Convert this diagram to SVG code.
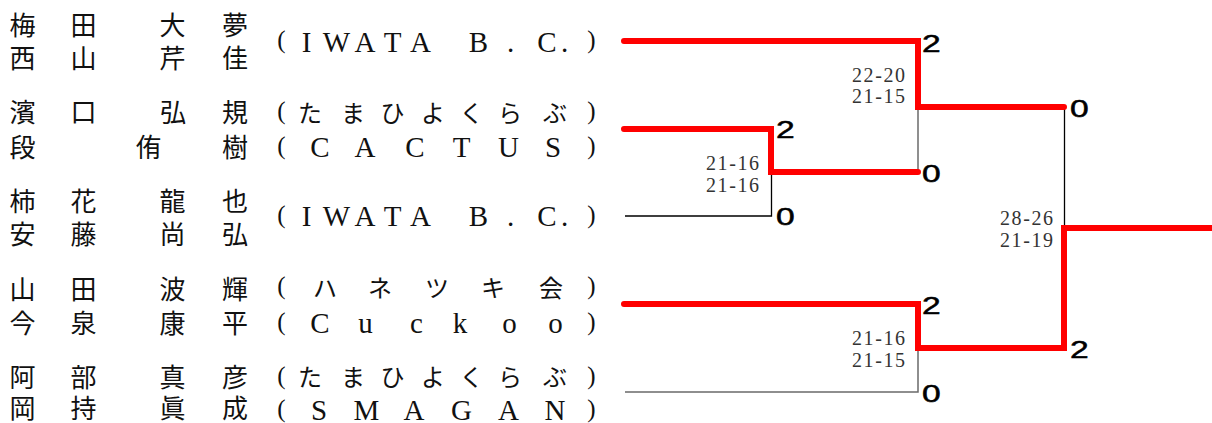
<svg xmlns="http://www.w3.org/2000/svg" width="1212" height="423" viewBox="0 0 1212 423">
<style>
.nm{font-family:"Noto Sans CJK JP","Noto Sans CJK SC",sans-serif;font-size:26px;fill:#111;text-anchor:middle}
.kn{font-family:"Noto Sans CJK JP","Noto Sans CJK SC",sans-serif;font-size:24px;fill:#111;text-anchor:middle}
.lt{font-family:"Liberation Serif","Times New Roman",serif;font-size:29px;fill:#111;text-anchor:middle}
.pr{font-family:"Liberation Serif","Times New Roman",serif;font-size:25px;fill:#111;text-anchor:middle}
.sc{font-family:"Liberation Serif","Times New Roman",serif;font-size:20px;fill:#333;text-anchor:end}
.pt{font-family:"Liberation Sans",Arial,sans-serif;font-size:24px;fill:#000;stroke:#000;stroke-width:0.5}
.win{fill:none;stroke:#ff0000;stroke-width:6;stroke-linecap:round;stroke-linejoin:miter}
.los{fill:none;stroke:#000;stroke-width:1.3}
.gry{fill:none;stroke:#6a6a6a;stroke-width:1.5}
</style>

<g id="connectors">
  <polyline class="los" points="625,216 771.5,216 771.5,172"/>
  <polyline class="gry" points="918,107 918,172"/>
  <polyline class="los" points="1064.5,107 1064.5,228"/>
  <polyline class="gry" points="625,392 918,392 918,348"/>
  <polyline class="win" points="624,41 918,41 918,107 1064,107"/>
  <polyline class="win" points="624,129 771,129 771,172 918,172"/>
  <polyline class="win" points="624,304 918,304 918,348 1064,348 1064,228 1215,228"/>
</g>

<g id="entry-1">
  <text class="nm" x="22.5 83.5 172.5 235" y="34.5">梅田大夢</text>
  <text class="nm" x="22.5 83.5 172.5 235" y="67.5">西山芹佳</text>
  <text class="pr" x="281.5" y="48">(</text>
  <text class="lt" x="306.5 336.5 365 392.5 420.5 449 478.5 510.5 530 547 564.5" y="52">IWATA B. C.</text>
  <text class="pr" x="591.5" y="48">)</text>
</g>

<g id="entry-2">
  <text class="nm" x="22.5 83.5 173 235" y="122">濱口弘規</text>
  <text class="pr" x="281.5" y="119">(</text>
  <text class="kn" x="310 353 392.5 433 471.5 510 555" y="121.5">たまひよくらぶ</text>
  <text class="pr" x="591.5" y="119">)</text>
</g>

<g id="entry-3">
  <text class="nm" x="22.5 148.5 235" y="157">段侑樹</text>
  <text class="pr" x="281.5" y="153.5">(</text>
  <text class="lt" x="320 365 415 461.5 508.5 553" y="157">CACTUS</text>
  <text class="pr" x="591.5" y="153.5">)</text>
</g>

<g id="entry-4">
  <text class="nm" x="22.5 83.5 172.5 235" y="210.5">柿花龍也</text>
  <text class="nm" x="22.5 83.5 172.5 235" y="243.5">安藤尚弘</text>
  <text class="pr" x="281.5" y="222.6">(</text>
  <text class="lt" x="306.5 336.5 365 392.5 420.5 449 478.5 510.5 530 547 564.5" y="226">IWATA B. C.</text>
  <text class="pr" x="591.5" y="222.6">)</text>
</g>

<g id="entry-5">
  <text class="nm" x="22.5 83.5 172.5 235" y="299">山田波輝</text>
  <text class="pr" x="281.5" y="294">(</text>
  <text class="kn" x="325 380 437 493 551" y="296.5">ハネツキ会</text>
  <text class="pr" x="591.5" y="294">)</text>
</g>

<g id="entry-6">
  <text class="nm" x="22.5 83.5 172.5 235" y="332.5">今泉康平</text>
  <text class="pr" x="281.5" y="329.6">(</text>
  <text class="lt" x="320 365.5 416.5 460 509.5 555.5" y="333">Cuckoo</text>
  <text class="pr" x="591.5" y="329.6">)</text>
</g>

<g id="entry-7">
  <text class="nm" x="22.5 83.5 172.5 235" y="386.5">阿部真彦</text>
  <text class="pr" x="281.5" y="383.6">(</text>
  <text class="kn" x="310 353 392.5 433 471.5 510 555" y="386">たまひよくらぶ</text>
  <text class="pr" x="591.5" y="383.6">)</text>
</g>

<g id="entry-8">
  <text class="nm" x="22.5 83.5 172.5 235" y="418">岡持眞成</text>
  <text class="pr" x="281.5" y="416.6">(</text>
  <text class="lt" x="319 366.5 414 461.5 508.5 555" y="419.5">SMAGAN</text>
  <text class="pr" x="591.5" y="416.6">)</text>
</g>

<g id="match-scores">
  <text class="sc" x="905" y="82" textLength="53" lengthAdjust="spacing">22-20</text>
  <text class="sc" x="905" y="103" textLength="53" lengthAdjust="spacing">21-15</text>
  <text class="sc" x="759" y="170" textLength="53" lengthAdjust="spacing">21-16</text>
  <text class="sc" x="759" y="192" textLength="53" lengthAdjust="spacing">21-16</text>
  <text class="sc" x="905" y="345" textLength="53" lengthAdjust="spacing">21-16</text>
  <text class="sc" x="905" y="367" textLength="53" lengthAdjust="spacing">21-15</text>
  <text class="sc" x="1053" y="225" textLength="53" lengthAdjust="spacing">28-26</text>
  <text class="sc" x="1053" y="247" textLength="53" lengthAdjust="spacing">21-19</text>
</g>

<g id="game-counts">
  <text class="pt" transform="translate(922,52) scale(1.4,1)">2</text>
  <text class="pt" transform="translate(776,138) scale(1.4,1)">2</text>
  <text class="pt" transform="translate(776,225) scale(1.4,1)">0</text>
  <text class="pt" transform="translate(922,182) scale(1.4,1)">0</text>
  <text class="pt" transform="translate(1070,117) scale(1.4,1)">0</text>
  <text class="pt" transform="translate(922,313.5) scale(1.4,1)">2</text>
  <text class="pt" transform="translate(922,402) scale(1.4,1)">0</text>
  <text class="pt" transform="translate(1070,358) scale(1.4,1)">2</text>
</g>
</svg>
